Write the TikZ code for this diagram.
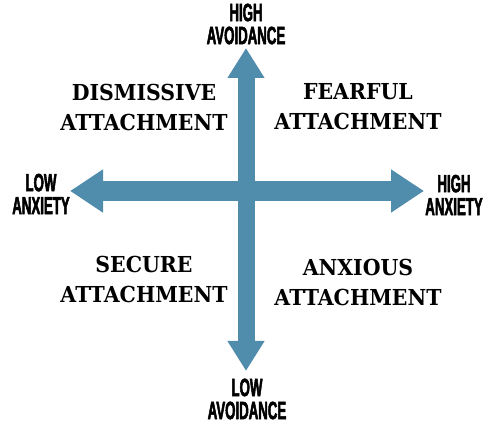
\documentclass[tikz,border=0pt]{standalone}
\usepackage{fontspec}
\usetikzlibrary{arrows.meta}
\newfontfamily\axisfont[FakeStretch=0.53,FakeBold=2]{Liberation Sans Bold}
\newfontfamily\quadfont[FakeStretch=0.93]{DejaVu Serif Bold}
\definecolor{axisblue}{RGB}{80,140,172}

\begin{document}
\begin{tikzpicture}[x=1pt,y=1pt,
  haxis/.style={draw=axisblue,line width=20pt,{Triangle[width=41pt,length=33pt]}-{Triangle[width=41pt,length=33pt]}},
  vaxis/.style={draw=axisblue,line width=17pt,{Triangle[width=35pt,length=30pt]}-{Triangle[width=35pt,length=30pt]}},
  axis_label/.style={font=\axisfont\fontsize{25}{23}\selectfont,align=center,inner sep=0pt},
  quad_label/.style={font=\quadfont\fontsize{22}{30}\selectfont,align=center,inner sep=0pt}
  ]
  \useasboundingbox (0,0) rectangle (503,428);

  % arrow ends
  \coordinate (LowAnx)  at (70,237);
  \coordinate (HighAnx) at (424,237);
  \coordinate (HighAv)  at (246,380);
  \coordinate (LowAv)   at (246,57);

  \draw[haxis] (LowAnx) -- (HighAnx);
  \draw[vaxis] (LowAv) -- (HighAv);

  % axis labels
  \node[axis_label] (HighAvLbl)  at (246,404) {HIGH\\AVOIDANCE};
  \node[axis_label] (LowAvLbl)   at (247,29)  {LOW\\AVOIDANCE};
  \node[axis_label] (LowAnxLbl)  at (41,234)  {LOW\\ANXIETY};
  \node[axis_label] (HighAnxLbl) at (454,233) {HIGH\\ANXIETY};

  % quadrants
  \node[quad_label] (Dismissive) at (144,321) {DISMISSIVE\\ATTACHMENT};
  \node[quad_label] (Fearful)    at (358,321) {FEARFUL\\ATTACHMENT};
  \node[quad_label] (Secure)     at (144,149) {SECURE\\ATTACHMENT};
  \node[quad_label] (Anxious)    at (358,146) {ANXIOUS\\ATTACHMENT};
\end{tikzpicture}
\end{document}
